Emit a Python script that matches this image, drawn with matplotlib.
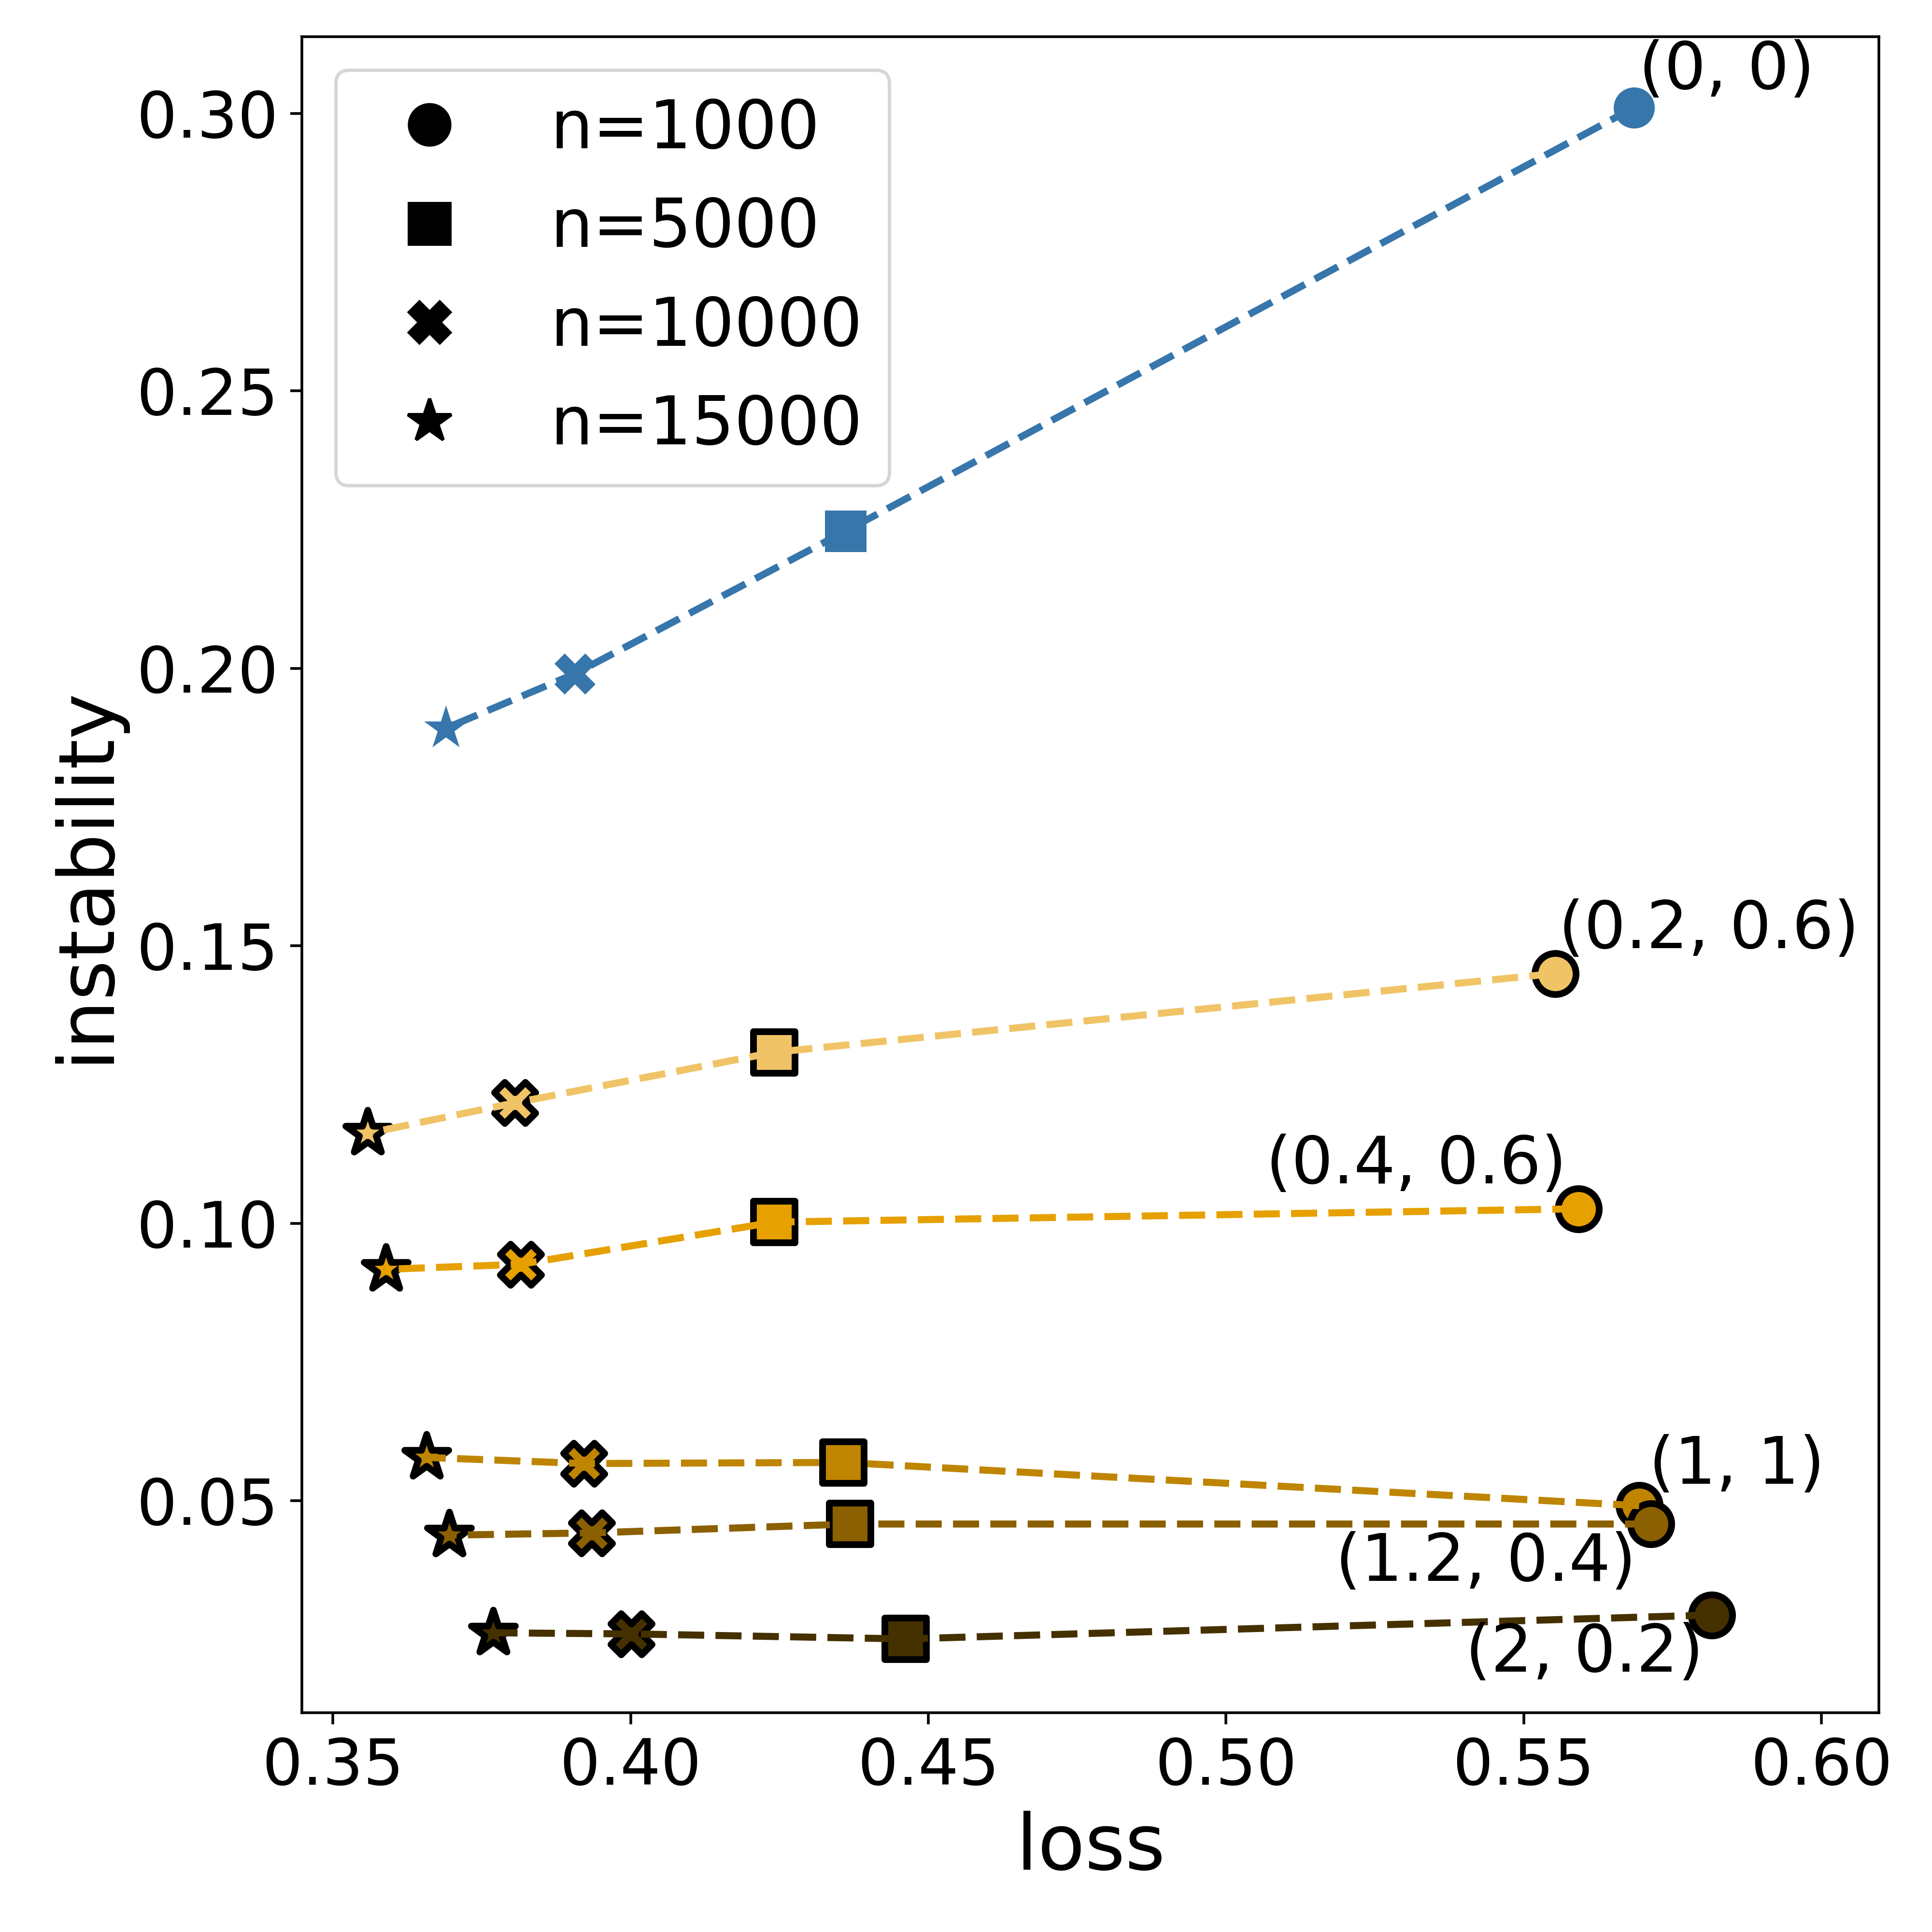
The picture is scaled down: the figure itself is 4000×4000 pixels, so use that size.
import numpy as np
import matplotlib
matplotlib.use("Agg")
from matplotlib import pyplot
from matplotlib.lines import Line2D

# (alpha, beta) settings, one curve each, points ordered n=1000, 5000, 10000, 15000
settings = ["(0, 0)", "(0.2, 0.6)", "(0.4, 0.6)", "(1, 1)", "(1.2, 0.4)", "(2, 0.2)"]
sample_sizes = [1000, 5000, 10000, 15000]

loss_00 = [0.5685, 0.4361, 0.3906, 0.3690]
loss_0206 = [0.5553, 0.4241, 0.3806, 0.3558]
loss_0406 = [0.5592, 0.4241, 0.3815, 0.3589]
loss_11 = [0.5694, 0.4357, 0.3922, 0.3657]
loss_1204 = [0.5714, 0.4369, 0.3935, 0.3695]
loss_202 = [0.5816, 0.4462, 0.4001, 0.3769]

instab_00 = [0.3010, 0.2247, 0.1990, 0.1892]
instab_0206 = [0.1450, 0.1308, 0.1217, 0.1162]
instab_0406 = [0.1026, 0.1002, 0.0926, 0.0917]
instab_11 = [0.0491, 0.0569, 0.0567, 0.0578]
instab_1204 = [0.0458, 0.0458, 0.0442, 0.0438]
instab_202 = [0.0294, 0.0251, 0.0260, 0.0262]

colors = ["#3776ab", "#f0c466", "#e6a000", "#bf8500", "#8b6000", "#453000"]
markers = ["o", "s", "X", "*"]

losses = [loss_00, loss_0206, loss_0406, loss_11, loss_1204, loss_202]
instabs = [instab_00, instab_0206, instab_0406, instab_11, instab_1204, instab_202]

# label placement next to the n=1000 point: offset in points and alignment
label_offsets = [(1.5, 11), (1, 13), (-3.5, 13), (3, 12), (-4.5, -11.5), (-2.5, -11.5)]
label_ha = ["left", "left", "right", "left", "right", "right"]

fig = pyplot.figure(figsize=(8, 8), dpi=500)
ax = fig.add_subplot(111)

for i, name in enumerate(settings):
    x = np.array(losses[i])
    y = np.array(instabs[i])
    for j, m in enumerate(markers):
        size = 150 if m != "*" else 190
        if i == 0:
            ax.scatter(x[j], y[j], s=size, marker=m, c=colors[i], linewidths=0, zorder=2)
        else:
            ax.scatter(x[j], y[j], s=size, marker=m, c=colors[i], edgecolors="k",
                linewidths=2, zorder=2)
    ax.plot(x, y, ls="--", c=colors[i], lw=2.1, zorder=3)
    ax.annotate(name, (x[0], y[0]), xytext=label_offsets[i], textcoords="offset points",
        ha=label_ha[i], va="center", fontsize=19.5, zorder=4)

handles = [Line2D([], [], ls="", marker=m, c="k", ms=12 if m != "*" else 13.5)
    for m in markers]
ax.legend(handles, ["n={0}".format(n) for n in sample_sizes], loc="upper left", fontsize=20)

ax.set_xlim(0.3448, 0.6097)
ax.set_ylim(0.0118, 0.3138)
ax.set_xticks([0.35, 0.40, 0.45, 0.50, 0.55, 0.60])
ax.set_yticks([0.05, 0.10, 0.15, 0.20, 0.25, 0.30])
ax.tick_params(labelsize=19)
ax.set_xlabel("loss", fontsize=23)
ax.set_ylabel("instability", fontsize=23)

fig.subplots_adjust(left=0.1563, right=0.9726, bottom=0.1135, top=0.981)
pyplot.savefig("out.png")
